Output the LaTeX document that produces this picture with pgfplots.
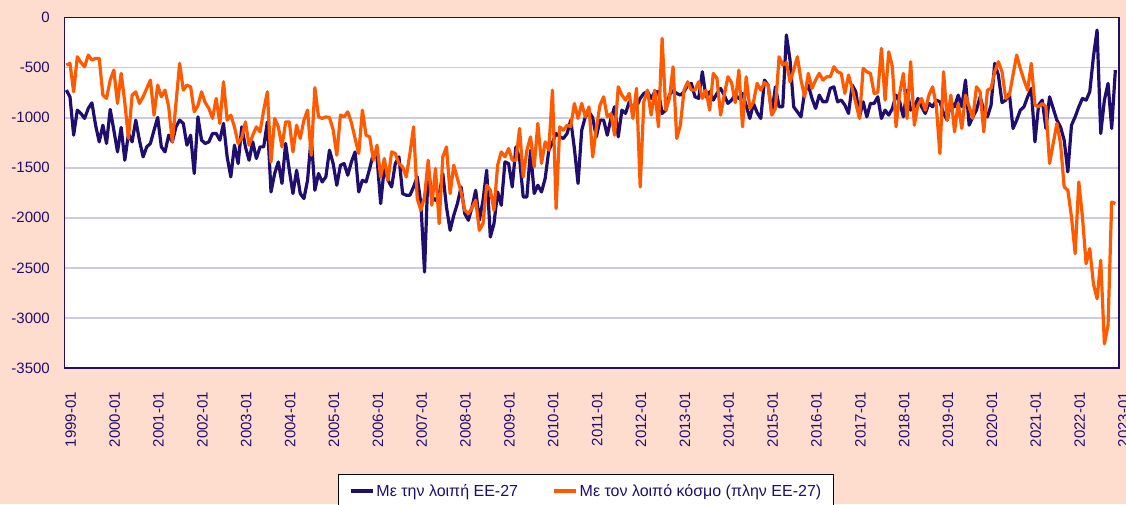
\documentclass[border=0pt]{standalone}
\usepackage{pgfplots}
\pgfplotsset{compat=1.18}
\usepackage{pgfplotstable}
\usepackage{fontspec}
\setmainfont{Liberation Sans}
\definecolor{peach}{RGB}{255,221,206}
\definecolor{navy}{RGB}{32,14,110}
\definecolor{orng}{RGB}{255,90,0}
\definecolor{gridc}{RGB}{204,204,222}
\pgfplotstableread[row sep=\\]{
m b o\\
0 -725 -475\\ 1 -792 -458\\ 2 -1175 -742\\ 3 -925 -392\\ 4 -958 -450\\ 5 -1008 -492\\
6 -908 -375\\ 7 -852 -425\\ 8 -1075 -408\\ 9 -1242 -408\\ 10 -1075 -775\\ 11 -1258 -808\\
12 -918 -625\\ 13 -1125 -525\\ 14 -1342 -858\\ 15 -1098 -558\\ 16 -1425 -850\\ 17 -1158 -1208\\
18 -1242 -775\\ 19 -1025 -742\\ 20 -1225 -858\\ 21 -1392 -792\\ 22 -1292 -708\\ 23 -1258 -625\\
24 -1125 -975\\ 25 -998 -675\\ 26 -1292 -792\\ 27 -1342 -725\\ 28 -1175 -892\\ 29 -1242 -1242\\
30 -1092 -858\\ 31 -1025 -458\\ 32 -1058 -725\\ 33 -1275 -675\\ 34 -1175 -692\\ 35 -1558 -942\\
36 -992 -880\\ 37 -1225 -742\\ 38 -1258 -850\\ 39 -1242 -908\\ 40 -1158 -1008\\ 41 -1158 -808\\
42 -1225 -1058\\ 43 -1058 -642\\ 44 -1392 -1025\\ 45 -1592 -975\\ 46 -1275 -1092\\ 47 -1458 -1258\\
48 -1092 -1200\\ 49 -1292 -1042\\ 50 -1425 -1275\\ 51 -1242 -1175\\ 52 -1408 -1092\\ 53 -1292 -1142\\
54 -1292 -925\\ 55 -1042 -742\\ 56 -1742 -1442\\ 57 -1558 -1008\\ 58 -1442 -1092\\ 59 -1658 -1292\\
60 -1258 -1042\\ 61 -1525 -1042\\ 62 -1758 -1342\\ 63 -1525 -1075\\ 64 -1758 -1208\\ 65 -1808 -1025\\
66 -1625 -925\\ 67 -1192 -1375\\ 68 -1725 -700\\ 69 -1558 -992\\ 70 -1642 -1008\\ 71 -1592 -992\\
72 -1325 -1000\\ 73 -1458 -1120\\ 74 -1675 -1375\\ 75 -1475 -975\\ 76 -1458 -992\\ 77 -1575 -942\\
78 -1442 -1050\\ 79 -1342 -1208\\ 80 -1742 -1358\\ 81 -1625 -925\\ 82 -1642 -1175\\ 83 -1508 -1192\\
84 -1358 -1425\\ 85 -1400 -1275\\ 86 -1858 -1592\\ 87 -1492 -1408\\ 88 -1625 -1625\\ 89 -1692 -1342\\
90 -1458 -1358\\ 91 -1392 -1458\\ 92 -1758 -1492\\ 93 -1775 -1592\\ 94 -1775 -1358\\ 95 -1692 -1092\\
96 -1592 -1808\\ 97 -1858 -1925\\ 98 -2542 -1792\\ 99 -1492 -1425\\ 100 -1792 -1875\\ 101 -1825 -1508\\
102 -1775 -2058\\ 103 -1558 -1392\\ 104 -1892 -1292\\ 105 -2125 -1758\\ 106 -1975 -1475\\ 107 -1858 -1608\\
108 -1692 -1742\\ 109 -1958 -1925\\ 110 -2025 -1958\\ 111 -1892 -1900\\ 112 -1725 -1825\\ 113 -2025 -2125\\
114 -1825 -2058\\ 115 -1525 -1675\\ 116 -2192 -1725\\ 117 -2058 -1925\\ 118 -1742 -1475\\ 119 -1875 -1342\\
120 -1442 -1392\\ 121 -1458 -1308\\ 122 -1692 -1425\\ 123 -1292 -1425\\ 124 -1408 -1108\\ 125 -1792 -1592\\
126 -1792 -1325\\ 127 -1325 -1192\\ 128 -1758 -1492\\ 129 -1675 -1058\\ 130 -1742 -1458\\ 131 -1608 -1242\\
132 -1325 -1325\\ 133 -1250 -725\\ 134 -1158 -1908\\ 135 -1192 -1092\\ 136 -1208 -1125\\ 137 -1158 -1075\\
138 -1025 -1090\\ 139 -1308 -858\\ 140 -1658 -1008\\ 141 -1125 -858\\ 142 -992 -992\\ 143 -942 -892\\
144 -1000 -1392\\ 145 -1192 -1108\\ 146 -1025 -875\\ 147 -1025 -792\\ 148 -1175 -992\\ 149 -1008 -960\\
150 -892 -1175\\ 151 -1192 -692\\ 152 -925 -775\\ 153 -958 -825\\ 154 -842 -758\\ 155 -908 -1008\\
156 -892 -708\\ 157 -808 -1692\\ 158 -758 -842\\ 159 -742 -725\\ 160 -808 -975\\ 161 -742 -725\\
162 -742 -1092\\ 163 -958 -208\\ 164 -925 -925\\ 165 -775 -808\\ 166 -725 -492\\ 167 -758 -1208\\
168 -775 -1075\\ 169 -742 -725\\ 170 -675 -642\\ 171 -658 -725\\ 172 -792 -725\\ 173 -808 -642\\
174 -542 -808\\ 175 -792 -725\\ 176 -742 -925\\ 177 -825 -558\\ 178 -758 -608\\ 179 -708 -975\\
180 -775 -775\\ 181 -858 -592\\ 182 -825 -650\\ 183 -775 -850\\ 184 -808 -525\\ 185 -758 -1092\\
186 -880 -592\\ 187 -1008 -908\\ 188 -858 -842\\ 189 -950 -658\\ 190 -1008 -725\\ 191 -625 -650\\
192 -675 -675\\ 193 -960 -975\\ 194 -692 -908\\ 195 -892 -392\\ 196 -892 -475\\ 197 -175 -450\\
198 -425 -642\\ 199 -892 -525\\ 200 -942 -392\\ 201 -992 -625\\ 202 -742 -792\\ 203 -675 -558\\
204 -808 -708\\ 205 -908 -625\\ 206 -775 -558\\ 207 -842 -625\\ 208 -842 -592\\ 209 -708 -592\\
210 -692 -492\\ 211 -842 -542\\ 212 -825 -558\\ 213 -875 -758\\ 214 -958 -575\\ 215 -675 -708\\
216 -742 -858\\ 217 -992 -1008\\ 218 -842 -508\\ 219 -992 -542\\ 220 -858 -558\\ 221 -858 -758\\
222 -792 -750\\ 223 -1008 -308\\ 224 -925 -825\\ 225 -975 -342\\ 226 -908 -492\\ 227 -775 -1092\\
228 -842 -758\\ 229 -992 -558\\ 230 -725 -1008\\ 231 -925 -442\\ 232 -892 -1075\\ 233 -808 -875\\
234 -892 -808\\ 235 -958 -925\\ 236 -858 -775\\ 237 -892 -692\\ 238 -825 -875\\ 239 -842 -1358\\
240 -958 -542\\ 241 -1025 -1025\\ 242 -842 -775\\ 243 -892 -1142\\ 244 -775 -858\\ 245 -892 -1108\\
246 -625 -775\\ 247 -1075 -892\\ 248 -992 -1008\\ 249 -925 -692\\ 250 -792 -742\\ 251 -925 -1142\\
252 -992 -725\\ 253 -875 -708\\ 254 -458 -542\\ 255 -575 -442\\ 256 -850 -542\\ 257 -825 -808\\
258 -758 -775\\ 259 -1108 -575\\ 260 -1025 -375\\ 261 -925 -508\\ 262 -892 -625\\ 263 -792 -725\\
264 -708 -458\\ 265 -1242 -875\\ 266 -875 -892\\ 267 -825 -858\\ 268 -1108 -892\\ 269 -792 -1458\\
270 -908 -1258\\ 271 -1025 -1058\\ 272 -1092 -1258\\ 273 -1225 -1692\\ 274 -1542 -1725\\ 275 -1075 -1992\\
276 -992 -2358\\ 277 -892 -1642\\ 278 -808 -1992\\ 279 -825 -2458\\ 280 -742 -2308\\ 281 -392 -2658\\
282 -125 -2808\\ 283 -1158 -2425\\ 284 -825 -3258\\ 285 -658 -3075\\ 286 -1108 -1842\\ 287 -525 -1858\\
}\data
\begin{document}
\begin{tikzpicture}[x=1pt,y=1pt]
\fill[peach] (0,0) rectangle (1126,504);
\path[use as bounding box] (0,0) rectangle (1126,504);
\begin{axis}[
  at={(64.5pt,136pt)}, anchor=south west,
  scale only axis, width=1054.5pt, height=350.5pt,
  xmin=-0.5, xmax=288, ymin=-3500, ymax=0,
  axis background/.style={fill=white},
  axis line style={navy, line width=1.3pt},
  ytick={-3500,-3000,...,0},
  yticklabels={-3500,-3000,-2500,-2000,-1500,-1000,-500,0},
  xtick={0,12,...,288},
  xticklabels={1999-01,2000-01,2001-01,2002-01,2003-01,2004-01,2005-01,2006-01,2007-01,2008-01,2009-01,2010-01,2011-01,2012-01,2013-01,2014-01,2015-01,2016-01,2017-01,2018-01,2019-01,2020-01,2021-01,2022-01,2023-01},
  tick style={draw=none},
  tick label style={text=navy, font=\fontsize{15}{17}\selectfont, inner sep=0pt},
  xticklabel style={xshift=4.5pt, rotate=90, anchor=east},
  xticklabel shift=24pt,
  yticklabel shift=14.5pt,
  ymajorgrids,
  major grid style={gridc, line width=1.8pt},
  legend columns=2,
  legend style={at={(0.4946,-0.3024)}, anchor=north, draw=black, line width=0.8pt, fill=white,
    font=\fontsize{16}{18}\selectfont, text=navy, inner xsep=10pt, inner ysep=8pt,
    /tikz/every even column/.append style={column sep=32pt}},
  legend image code/.code={\draw[#1, line width=3.6pt] (0pt,0pt) -- (22pt,0pt);},
]
\addplot[navy, line width=3.2pt, line join=round] table[x=m, y=b] {\data};
\addlegendentry{Με την λοιπή ΕΕ-27}
\addplot[orng, line width=3.2pt, line join=round] table[x=m, y=o] {\data};
\addlegendentry{Με τον λοιπό κόσμο (πλην ΕΕ-27)}
\end{axis}
\end{tikzpicture}
\end{document}
